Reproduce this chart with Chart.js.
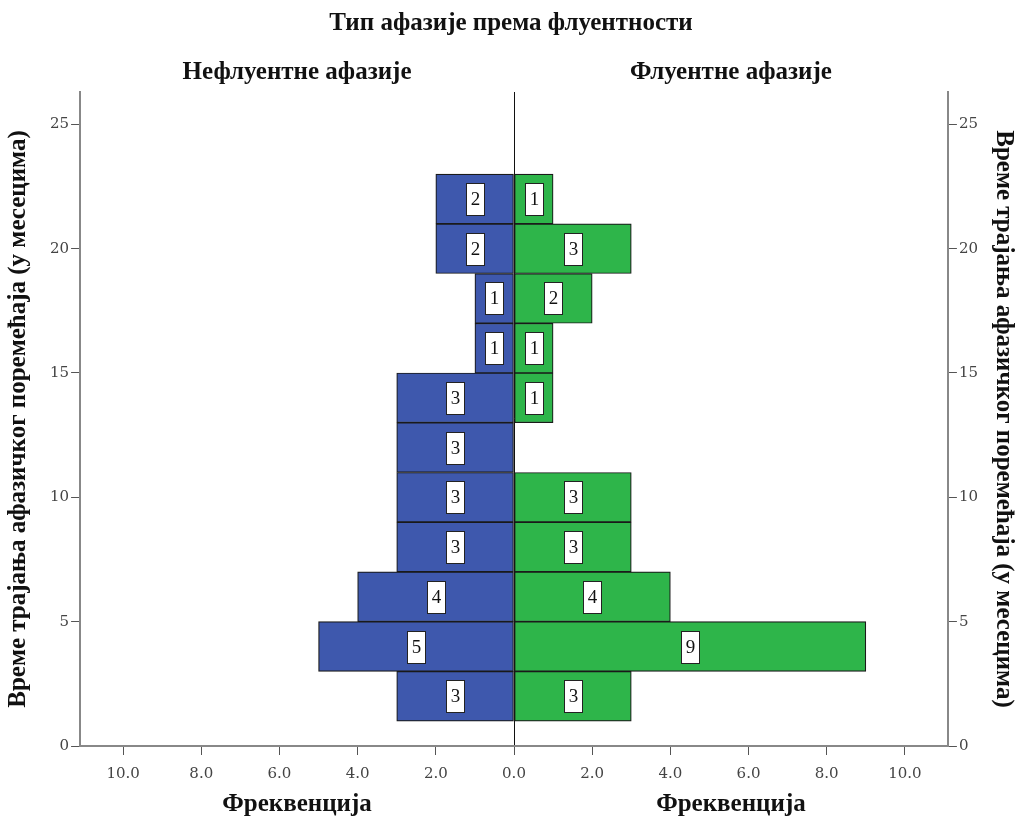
<!DOCTYPE html>
<html>
<head>
<meta charset="utf-8">
<script src="https://cdn.jsdelivr.net/npm/chart.js@4.4.1/dist/chart.umd.min.js"></script>
<style>
  html, body { margin: 0; background: #fff; }
  #okvir { width: 1020px; height: 818px; }
</style>
</head>
<body>
<div id="okvir"><canvas id="piramida"></canvas></div>
<script>
// Средине интервала трајања (у месецима), ширина интервала 2
const sredineIntervala = [2, 4, 6, 8, 10, 12, 14, 16, 18, 20, 22];
// Фреквенције по групама
const nefluentne = [3, 5, 4, 3, 3, 3, 3, 1, 1, 2, 2];
const fluentne = [3, 9, 4, 3, 3, 0, 1, 1, 2, 3, 1];

const FONT = "'Liberation Serif', 'DejaVu Serif', serif";
const TICK_FONT = "'DejaVu Serif', serif";
const GRANICA = 11.1;
const VRH_Y = 26.3;

// Натписи изнад панела и испод оса
const natpisiPanela = {
  id: "natpisiPanela",
  afterDraw(chart) {
    const ctx = chart.ctx;
    const xs = chart.scales.x;
    const area = chart.chartArea;
    const levo = xs.getPixelForValue(-GRANICA / 2);
    const desno = xs.getPixelForValue(GRANICA / 2);
    ctx.save();
    ctx.fillStyle = "#111";
    ctx.font = "bold 25px " + FONT;
    ctx.textAlign = "center";
    ctx.textBaseline = "middle";
    ctx.fillText("Нефлуентне афазије", levo, area.top - 19);
    ctx.fillText("Флуентне афазије", desno, area.top - 19);
    ctx.fillText("Фреквенција", levo, chart.height - 13);
    ctx.fillText("Фреквенција", desno, chart.height - 13);
    ctx.restore();
  }
};

// Беле кутије са фреквенцијама на средини трака
const oznakeTraka = {
  id: "oznakeTraka",
  afterDatasetsDraw(chart) {
    const ctx = chart.ctx;
    ctx.save();
    ctx.font = "19px " + FONT;
    ctx.textAlign = "center";
    ctx.textBaseline = "middle";
    chart.data.datasets.forEach((ds, i) => {
      chart.getDatasetMeta(i).data.forEach((bar, j) => {
        const v = ds.vrednosti[j];
        if (!v) return;
        const cx = Math.round((bar.x + bar.base) / 2);
        const cy = Math.round(bar.y);
        ctx.fillStyle = "#fff";
        ctx.strokeStyle = "#222";
        ctx.lineWidth = 1;
        ctx.fillRect(cx - 9, cy - 16, 18, 32);
        ctx.strokeRect(cx - 9 + 0.5, cy - 16 + 0.5, 18, 32);
        ctx.fillStyle = "#111";
        ctx.fillText(String(v), cx + 0.5, cy + 1);
      });
    });
    ctx.restore();
  }
};

const osaY = (pozicija, razmak) => ({
  type: "linear",
  position: pozicija,
  min: 0,
  max: VRH_Y,
  offset: false,
  ticks: {
    stepSize: 5,
    includeBounds: false,
    color: "#444",
    padding: 2,
    font: { family: TICK_FONT, size: 15 }
  },
  grid: { offset: false, drawOnChartArea: false, tickColor: "#555", tickLength: 9 },
  border: { display: true, color: "#888", width: 2 },
  title: {
    display: true,
    text: "Време трајања афазичког поремећаја (у месецима)",
    color: "#111",
    font: { family: FONT, size: 25, weight: "bold" },
    padding: { top: 0, bottom: razmak }
  }
});

new Chart(document.getElementById("piramida").getContext("2d"), {
  type: "bar",
  data: {
    datasets: [{
      label: "Нефлуентне афазије",
      vrednosti: nefluentne,
      data: sredineIntervala.map((s, i) => ({ x: nefluentne[i] ? -nefluentne[i] : null, y: s })),
      backgroundColor: "#3e58ad",
      borderColor: "#1a1a1a",
      borderWidth: 1.2,
      borderSkipped: false,
      barPercentage: 1,
      categoryPercentage: 1,
      grouped: false
    }, {
      label: "Флуентне афазије",
      vrednosti: fluentne,
      data: sredineIntervala.map((s, i) => ({ x: fluentne[i] ? fluentne[i] : null, y: s })),
      backgroundColor: "#2eb54a",
      borderColor: "#1a1a1a",
      borderWidth: 1.2,
      borderSkipped: false,
      barPercentage: 1,
      categoryPercentage: 1,
      grouped: false
    }]
  },
  options: {
    indexAxis: "y",
    responsive: true,
    maintainAspectRatio: false,
    animation: false,
    layout: { padding: { left: 4, right: 2, bottom: 25 } },
    plugins: {
      legend: { display: false },
      tooltip: { enabled: false },
      title: {
        display: true,
        text: "Тип афазије према флуентности",
        color: "#111",
        font: { family: FONT, size: 25, weight: "bold" },
        padding: { top: 9, bottom: 53 }
      }
    },
    scales: {
      x: {
        type: "linear",
        min: -GRANICA,
        max: GRANICA,
        ticks: {
          stepSize: 2,
          includeBounds: false,
          color: "#444",
          padding: 10,
          font: { family: TICK_FONT, size: 15 },
          callback: v => Math.abs(v).toFixed(1)
        },
        grid: {
          color: c => (c.tick && c.tick.value === 0 ? "#111" : "rgba(0,0,0,0)"),
          tickColor: "#555",
          tickLength: 9,
          lineWidth: 1
        },
        border: { display: true, color: "#888", width: 2 }
      },
      y: osaY("left", 14),
      y2: osaY("right", 8)
    }
  },
  plugins: [oznakeTraka, natpisiPanela]
});
</script>
